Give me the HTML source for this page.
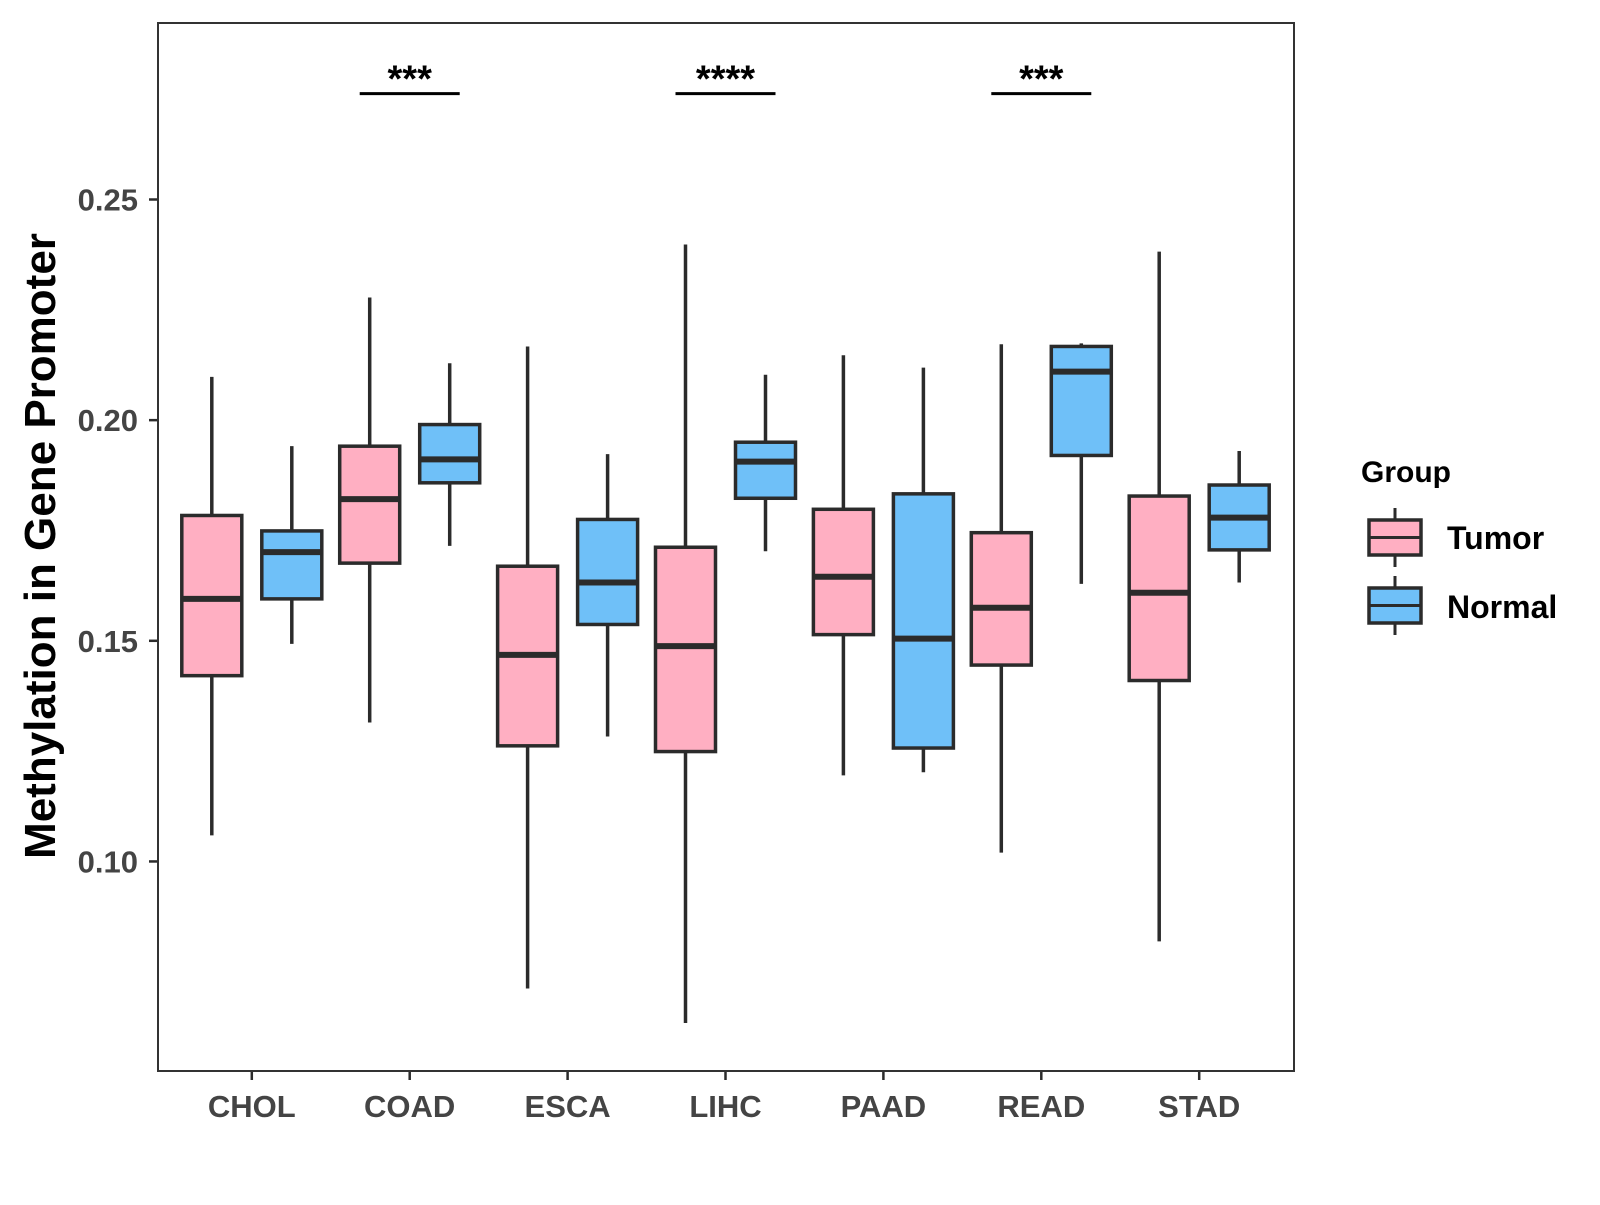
<!DOCTYPE html>
<html><head><meta charset="utf-8"><style>
body{margin:0;background:#fff}
svg text{font-family:"Liberation Sans",Arial,sans-serif;font-weight:bold}
</style></head><body>
<svg id="chart" width="1600" height="1200" xmlns="http://www.w3.org/2000/svg">
<rect width="1600" height="1200" fill="#fff"/>
<g id="plot"></g>
</svg>
<script>
const categories=["CHOL","COAD","ESCA","LIHC","PAAD","READ","STAD"];
// [lowerWhisker, q1, median, q3, upperWhisker]
const tumorStats=[[0.1059,0.1421,0.1595,0.1784,0.2098],[0.1315,0.1676,0.1821,0.1941,0.2278],[0.0712,0.1262,0.1468,0.1669,0.2167],[0.0634,0.1249,0.1488,0.1712,0.2398],[0.1195,0.1514,0.1645,0.1798,0.2147],[0.1020,0.1445,0.1575,0.1745,0.2172],[0.0819,0.1410,0.1609,0.1828,0.2382]];
const normalStats=[[0.1493,0.1595,0.1701,0.1749,0.1941],[0.1715,0.1858,0.1911,0.1990,0.2129],[0.1283,0.1537,0.1632,0.1775,0.1923],[0.1703,0.1823,0.1906,0.1950,0.2103],[0.1202,0.1257,0.1505,0.1833,0.2119],[0.1629,0.1920,0.2110,0.2167,0.2174],[0.1632,0.1706,0.1779,0.1853,0.1930]];
const yTicks=[0.10,0.15,0.20,0.25];
const yTickLabels=["0.10","0.15","0.20","0.25"];
const sigCategories=["COAD","LIHC","READ"];
const sigLabels=["***","****","***"];
const sigValue=0.274;

const NS="http://www.w3.org/2000/svg";
const g=document.getElementById('plot');
const L=158,R=1294,T=23,B=1071;
function y(v){return 199.5+(0.25-v)*4413;}
function x(i){return 251.8+i*157.9;}
function el(tag,attrs,parent){const e=document.createElementNS(NS,tag);for(const k in attrs)e.setAttribute(k,attrs[k]);(parent||g).appendChild(e);return e;}
const ink="#2b2b2b";
function box(cx,s,fill,name){
  const grp=el('g',{});
  
  
  el('line',{x1:cx,x2:cx,y1:y(s[4]),y2:y(s[0]),stroke:ink,'stroke-width':3.5},grp);
  el('rect',{x:cx-30,y:y(s[3]),width:60,height:y(s[1])-y(s[3]),fill:fill,stroke:ink,'stroke-width':3.5},grp);
  el('line',{x1:cx-30,x2:cx+30,y1:y(s[2]),y2:y(s[2]),stroke:ink,'stroke-width':6},grp);
}
categories.forEach((c,i)=>{
  box(x(i)-40,tumorStats[i],"#FFAFC2","box-tumor-"+c.toLowerCase());
  box(x(i)+40,normalStats[i],"#6FC0F8","box-normal-"+c.toLowerCase());
  el('line',{x1:x(i),x2:x(i),y1:B,y2:B+9,stroke:ink,'stroke-width':2.5});
  const t=el('text',{x:x(i),y:1117,'text-anchor':'middle','font-size':31,fill:'#444'});
  t.textContent=c;
  
  
});
yTicks.forEach((v,i)=>{
  el('line',{x1:L-9,x2:L,y1:y(v),y2:y(v),stroke:ink,'stroke-width':2.5});
  const t=el('text',{x:138,y:y(v)+11,'text-anchor':'end','font-size':31,fill:'#444'});
  t.textContent=yTickLabels[i];
  
  
});
sigCategories.forEach((c,k)=>{
  const i=categories.indexOf(c);
  const ln=el('line',{x1:x(i)-50,x2:x(i)+50,y1:y(sigValue),y2:y(sigValue),stroke:'#000','stroke-width':3});
  
  
  const t=el('text',{x:x(i),y:y(sigValue)-2,'text-anchor':'middle','font-size':38,fill:'#000'});
  t.textContent=sigLabels[k];
  
  
});
const frame=el('rect',{x:L,y:T,width:R-L,height:B-T,fill:'none',stroke:'#333','stroke-width':2});


const yt=el('text',{x:0,y:0,transform:'translate(55,546) rotate(-90)','text-anchor':'middle','font-size':44,fill:'#000'});
yt.textContent="Methylation in Gene Promoter";


// legend
const lg=el('g',{});


const gt=el('text',{x:1361,y:482,'font-size':30,fill:'#000'},lg);gt.textContent="Group";
[["Tumor","#FFAFC2",520,549],["Normal","#6FC0F8",588,618]].forEach(([n,f,by,ty])=>{
  const e=el('g',{},lg);
  
  
  el('line',{x1:1395,x2:1395,y1:by-12,y2:by+47,stroke:ink,'stroke-width':3},e);
  el('rect',{x:1369,y:by,width:52,height:35,fill:f,stroke:ink,'stroke-width':3.5},e);
  el('line',{x1:1369,x2:1421,y1:by+17.5,y2:by+17.5,stroke:ink,'stroke-width':3},e);
  const t=el('text',{x:1447,y:ty,'font-size':32,fill:'#000'},e);t.textContent=n;
});
</script>
</body></html>
